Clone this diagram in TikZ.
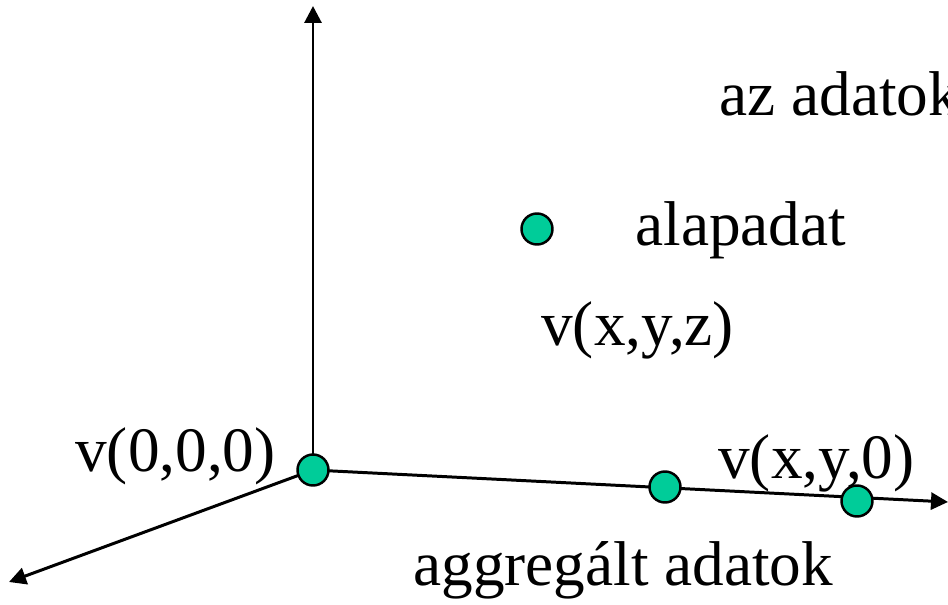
\documentclass[tikz,border=0pt]{standalone}
\usepackage{fontspec}
\setmainfont{Liberation Serif}
\usetikzlibrary{arrows.meta}

\begin{document}
\begin{tikzpicture}[
  x=0.02cm, y=-0.02cm,
  axis/.style={line width=1.7pt, -{Triangle[length=0.34cm, width=0.34cm]}},
  cell/.style={circle, draw, line width=1.4pt, fill=cellgreen,
               minimum size=0.62cm, inner sep=0pt},
  lbl/.style={anchor=base west, inner sep=0pt,
              font=\fontsize{36}{40}\selectfont}]
  \definecolor{cellgreen}{HTML}{00CC99}
  \useasboundingbox (0,0) rectangle (948,605);
  \coordinate (o) at (313,470);
  \coordinate (ztip) at (313,6);
  \coordinate (ytip) at (948,502);
  \coordinate (xtip) at (9,582);
  \draw[axis] (o) -- (ztip);
  \draw[axis] (o) -- (ytip);
  \draw[axis] (o) -- (xtip);
  \node[cell] (origin) at (o) {};
  \node[cell] (mid) at (665,487) {};
  \node[cell] (proj) at (857,501) {};
  \node[cell] (base) at (537,229) {};
  \node[lbl] (title) at (719,115) {az adatok};
  \node[lbl] (baselbl) at (635,245) {alapadat};
  \node[lbl] (xyz) at (541,345) {v(x,y,z)};
  \node[lbl] (zero) at (75,471) {v(0,0,0)};
  \node[lbl] (xy0) at (718,478) {v(x,y,0)};
  \node[lbl] (aggr) at (413,585) {aggregált adatok};
\end{tikzpicture}
\end{document}
